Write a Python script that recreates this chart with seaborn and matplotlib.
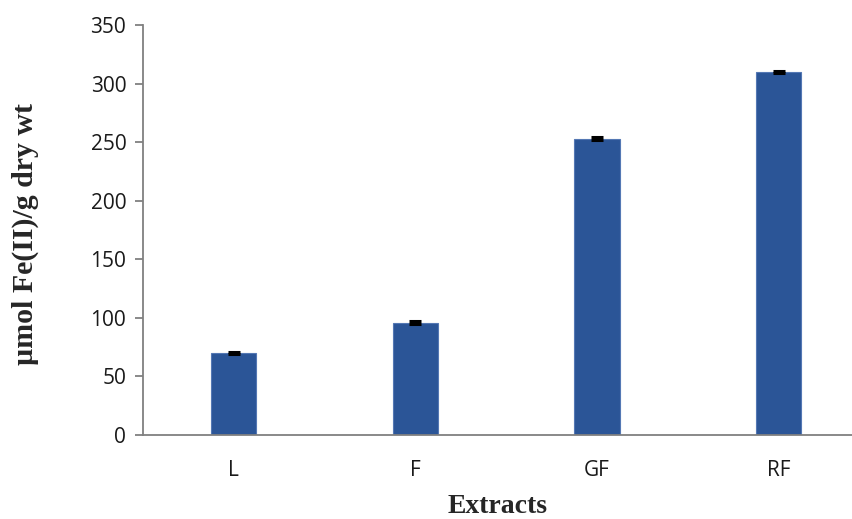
import numpy as np
import seaborn as sns
import matplotlib.pyplot as plt

extracts = ['L', 'F', 'GF', 'RF']
fe_values = [70, 96, 253, 310]
fe_errors = [1.0, 1.0, 1.0, 1.0]

sns.set_theme()
sns.set_style("white")

fig = plt.figure(figsize=(8.53, 5.19), dpi=100)
ax = fig.add_axes([0.1676, 0.1618, 0.8324, 0.79])

sns.barplot(x=extracts, y=fe_values, color='#2B5597', width=0.25,
            edgecolor='#5478B4', linewidth=0.8, saturation=1, ax=ax)
ax.errorbar(x=np.arange(len(extracts)), y=fe_values, yerr=fe_errors,
            fmt='none', ecolor='black', elinewidth=1.5, capsize=4.5, capthick=2.2)

ax.set_ylim(0, 350)
ax.set_xlim(-0.5, 3.41)
ax.set_yticks(range(0, 351, 50))

for side in ['top', 'right']:
    ax.spines[side].set_visible(False)
for side in ['left', 'bottom']:
    ax.spines[side].set_color('#808080')
    ax.spines[side].set_linewidth(1.3)

ax.tick_params(axis='y', left=True, length=6, width=1.3, color='#808080',
               labelsize=15, pad=6, labelcolor='#1a1a1a')
ax.tick_params(axis='x', bottom=False, labelsize=15, pad=12, labelcolor='#1a1a1a')
for lbl in ax.get_xticklabels() + ax.get_yticklabels():
    lbl.set_family('Open Sans')

ax.set_xlabel('Extracts', family='Liberation Serif', fontweight='bold',
              fontsize=20, labelpad=9)
ax.set_ylabel('µmol Fe(II)/g dry wt', family='Liberation Serif', fontweight='bold',
              fontsize=21.5)
ax.yaxis.set_label_coords(-0.146, 0.49)

plt.savefig('out.png', dpi=100)
